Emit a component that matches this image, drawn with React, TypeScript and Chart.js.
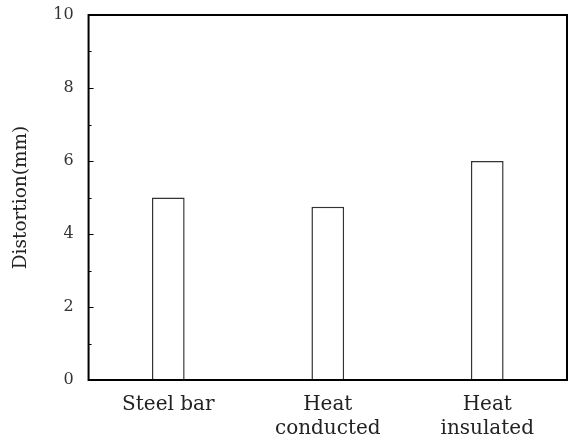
import React, { useEffect, useRef } from "react";
import { Chart, registerables } from "chart.js";

Chart.register(...registerables);

const categories: (string | string[])[] = ["Steel bar", ["Heat", "conducted"], ["Heat", "insulated"]];
const distortion: number[] = [5.0, 4.75, 6.0];
const yMajorTicks: number[] = [0, 2, 4, 6, 8, 10];
const yMinorTicks: number[] = [1, 3, 5, 7, 9];

const FONT = "'DejaVu Serif', serif";

const innerTicks = {
  id: "innerTicks",
  afterDraw(chart: any) {
    const { ctx, chartArea } = chart;
    const y = chart.scales.y;
    ctx.save();
    ctx.strokeStyle = "#000";
    ctx.lineWidth = 1;
    const draw = (v: number, len: number) => {
      const py = Math.round(y.getPixelForValue(v)) + 0.5;
      ctx.beginPath();
      ctx.moveTo(chartArea.left, py);
      ctx.lineTo(chartArea.left + len, py);
      ctx.stroke();
    };
    yMajorTicks.forEach((v) => draw(v, 5));
    yMinorTicks.forEach((v) => draw(v, 3));
    ctx.lineWidth = 2;
    ctx.strokeRect(chartArea.left, chartArea.top, chartArea.right - chartArea.left, chartArea.bottom - chartArea.top);
    ctx.restore();
  },
};

export default function App() {
  const ref = useRef<HTMLCanvasElement>(null);
  useEffect(() => {
    if (!ref.current) return;
    const chart = new Chart(ref.current, {
      type: "bar",
      data: {
        labels: categories,
        datasets: [
          {
            data: distortion,
            backgroundColor: "#ffffff",
            borderColor: "#333333",
            borderWidth: 1.5,
            barPercentage: 0.205,
            categoryPercentage: 1,
          },
        ],
      },
      options: {
        animation: false,
        responsive: false,
        maintainAspectRatio: false,
        layout: { padding: { top: 0, right: 3, left: 10, bottom: -7 } },
        plugins: { legend: { display: false }, tooltip: { enabled: false } },
        scales: {
          x: {
            grid: { display: false, drawTicks: false },
            border: { display: false },
            ticks: {
              color: "#222",
              font: { family: FONT, size: 20, lineHeight: 1.2 },
              padding: 13,
              maxRotation: 0,
            },
          },
          y: {
            min: 0,
            max: 10,
            afterFit: (scale: any) => {
              scale.paddingTop = 15;
            },
            grid: { display: false, drawTicks: false },
            border: { display: false },
            ticks: {
              stepSize: 2,
              color: "#333",
              font: { family: FONT, size: 16 },
              padding: 15,
            },
            title: {
              display: true,
              text: "Distortion(mm)",
              color: "#222",
              font: { family: FONT, size: 18.5 },
              padding: { top: 0, bottom: 6 },
            },
          },
        },
      },
      plugins: [innerTicks],
    });
    return () => chart.destroy();
  }, []);
  return (
    <div style={{ position: "fixed", left: 0, top: 0, width: 570, height: 447, background: "#fff" }}>
      <canvas ref={ref} width={570} height={447} style={{ width: 570, height: 447 }} />
    </div>
  );
}
